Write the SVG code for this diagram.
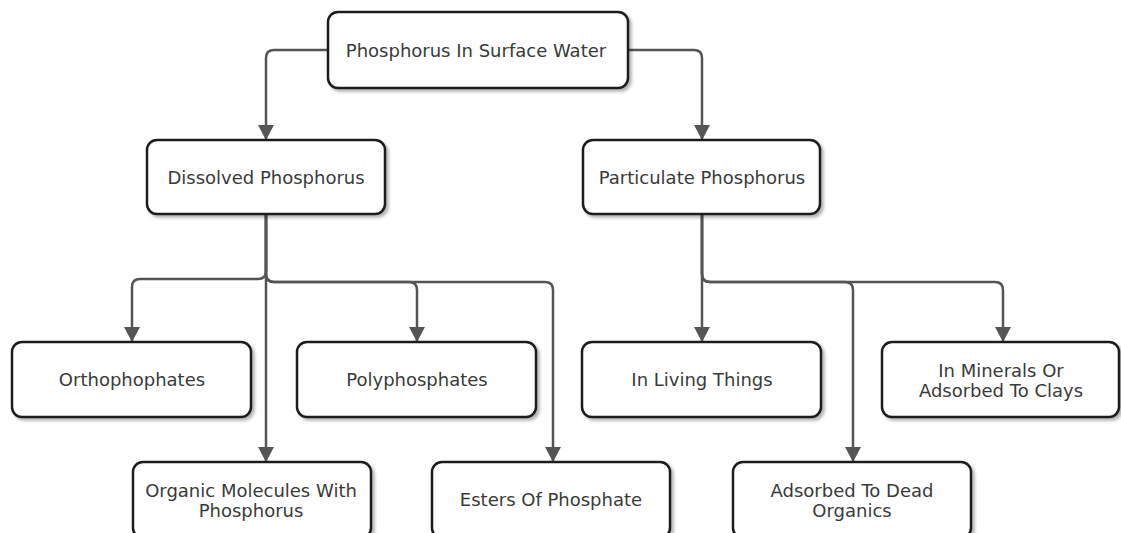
<svg xmlns="http://www.w3.org/2000/svg" width="1121" height="533" viewBox="0 0 1121 533">
<style>
.box{fill:#fff;stroke:#1e1e1e;stroke-width:2.5;filter:url(#sh)}
.lbl{font-family:"DejaVu Sans",Verdana,sans-serif;font-size:18px;fill:#3a3a3a;text-anchor:middle}
.con{fill:none;stroke:#555;stroke-width:2.5}
</style>
<defs>
<filter id="sh" x="-10%" y="-10%" width="130%" height="140%">
<feDropShadow dx="2.5" dy="2.5" stdDeviation="1.5" flood-color="#000" flood-opacity="0.3"/>
</filter>
<marker id="ar" markerWidth="15" markerHeight="16" viewBox="0 0 15 16" refX="15" refY="8" orient="auto" markerUnits="userSpaceOnUse">
<path d="M0,0 L15,8 L0,16 Z" fill="#555"/>
</marker>
</defs>
<g id="connectors">
<path class="con" marker-end="url(#ar)" d="M328,50 H274 Q266,50 266,58 V140"/>
<path class="con" marker-end="url(#ar)" d="M628,50 H694 Q702,50 702,58 V140"/>
<path class="con" marker-end="url(#ar)" d="M266,215 V271 Q266,279 258,279 H140 Q132,279 132,287 V342"/>
<path class="con" marker-end="url(#ar)" d="M266,215 V462"/>
<path class="con" marker-end="url(#ar)" d="M266,215 V274 Q266,282 274,282 H409 Q417,282 417,290 V342"/>
<path class="con" marker-end="url(#ar)" d="M266,215 V274 Q266,282 274,282 H545 Q553,282 553,290 V462"/>
<path class="con" marker-end="url(#ar)" d="M702,215 V342"/>
<path class="con" marker-end="url(#ar)" d="M702,215 V274 Q702,282 710,282 H845 Q853,282 853,290 V462"/>
<path class="con" marker-end="url(#ar)" d="M702,215 V274 Q702,282 710,282 H995 Q1003,282 1003,290 V342"/>
</g>
<g id="n-top"><rect class="box" x="328" y="12" width="300" height="76" rx="10"/><text class="lbl" x="476" y="57">Phosphorus In Surface Water</text></g>
<g id="n-dissolved"><rect class="box" x="147" y="140" width="238" height="74" rx="10"/><text class="lbl" x="266" y="184">Dissolved Phosphorus</text></g>
<g id="n-particulate"><rect class="box" x="583" y="140" width="237" height="74" rx="10"/><text class="lbl" x="702" y="184">Particulate Phosphorus</text></g>
<g id="n-ortho"><rect class="box" x="12" y="342" width="239" height="75" rx="10"/><text class="lbl" x="132" y="386">Orthophophates</text></g>
<g id="n-poly"><rect class="box" x="297" y="342" width="239" height="75" rx="10"/><text class="lbl" x="417" y="386">Polyphosphates</text></g>
<g id="n-living"><rect class="box" x="582" y="342" width="239" height="75" rx="10"/><text class="lbl" x="702" y="386">In Living Things</text></g>
<g id="n-minerals"><rect class="box" x="882" y="342" width="237" height="75" rx="10"/><text class="lbl" x="1001" y="377">In Minerals Or</text><text class="lbl" x="1001" y="397">Adsorbed To Clays</text></g>
<g id="n-organic"><rect class="box" x="133" y="462" width="238" height="76" rx="10"/><text class="lbl" x="251" y="497">Organic Molecules With</text><text class="lbl" x="251" y="517">Phosphorus</text></g>
<g id="n-esters"><rect class="box" x="432" y="462" width="238" height="76" rx="10"/><text class="lbl" x="551" y="506">Esters Of Phosphate</text></g>
<g id="n-dead"><rect class="box" x="733" y="462" width="238" height="76" rx="10"/><text class="lbl" x="852" y="497">Adsorbed To Dead</text><text class="lbl" x="852" y="517">Organics</text></g>
</svg>
